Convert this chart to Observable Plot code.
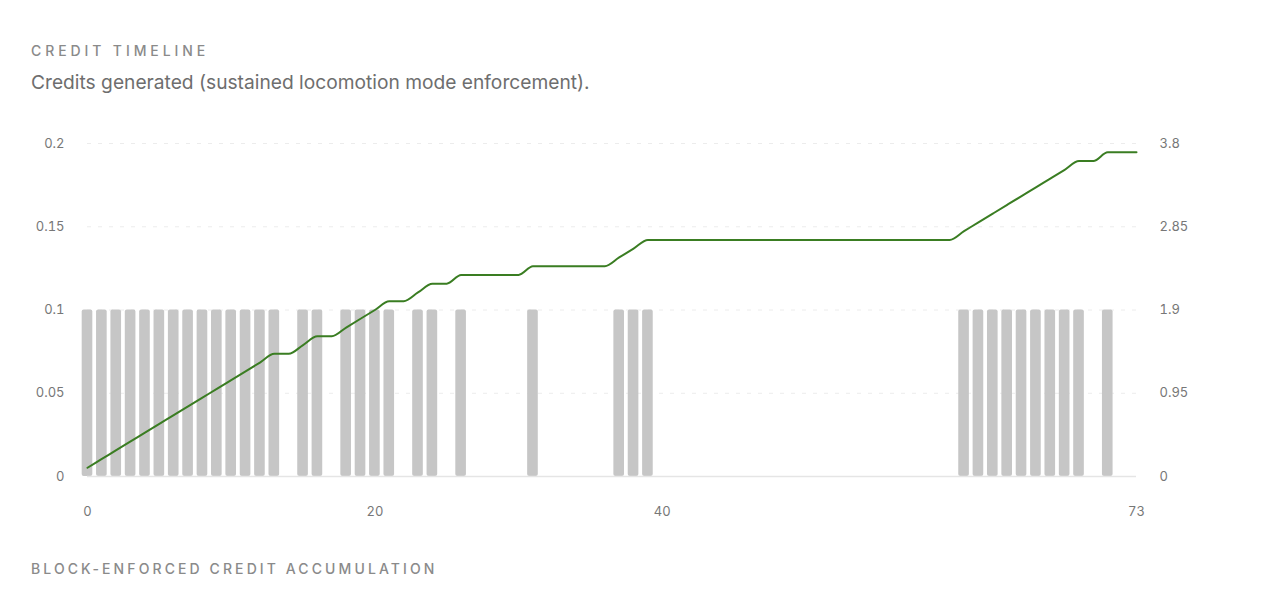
<!DOCTYPE html>
<html>
<head>
<meta charset="utf-8">
<script src="https://cdn.jsdelivr.net/npm/d3@7"></script>
<script src="https://cdn.jsdelivr.net/npm/@observablehq/plot@0.6"></script>
<style>
  html, body { margin: 0; padding: 0; background: #fff; }
  body { width: 1262px; height: 616px; position: relative; font-family: Inter, "Noto Sans", sans-serif; overflow: hidden; }
  .title { position: absolute; left: 31px; top: 42px; font-size: 14px; line-height: 17px; letter-spacing: 3.9px; color: #8a8a8a; font-weight: 500; }
  .subtitle { position: absolute; left: 31px; top: 71px; font-size: 19.2px; line-height: 23px; color: #6e6e6e; }
  .footer { position: absolute; left: 31px; top: 560px; font-size: 14px; line-height: 17px; letter-spacing: 3.1px; color: #8a8a8a; font-weight: 500; }
  #chart { position: absolute; left: 0; top: 100px; }
</style>
</head>
<body>
<div class="title">CREDIT TIMELINE</div>
<div class="subtitle">Credits generated (sustained locomotion mode enforcement).</div>
<div id="chart"></div>
<div class="footer">BLOCK-ENFORCED CREDIT ACCUMULATION</div>
<script>
// ---- data ----
const lastBlock = 73;
const enforcedBlocks = [0,1,2,3,4,5,6,7,8,9,10,11,12,13,15,16,18,19,20,21,23,24,26,31,37,38,39,61,62,63,64,65,66,67,68,69,71];
const creditPerBlock = 0.1;          // bar height (left axis) and credit added per enforced block
const leftTicks = [0, 0.05, 0.1, 0.15, 0.2];
const rightTicks = [0, 0.95, 1.9, 2.85, 3.8];
const xTicks = [0, 20, 40, 73];

// ---- derived tables ----
const leftMax = 0.2, rightMax = 3.8;
const ratio = leftMax / rightMax;
const enforcedSet = new Set(enforcedBlocks);
const bars = enforcedBlocks.map(b => ({block: b, credit: creditPerBlock}));
const blocks = d3.range(0, lastBlock + 1);
const cum = Array.from(d3.cumsum(blocks, b => enforcedSet.has(b) ? creditPerBlock : 0));
const line = blocks.map((b, i) => ({block: b, total: cum[i]}));

const fmt = v => String(+v.toFixed(2));

const chart = Plot.plot({
  width: 1262,
  height: 440,
  marginLeft: 87,
  marginRight: 126,
  marginTop: 43,
  marginBottom: 64,
  style: {fontFamily: "Inter, 'Noto Sans', sans-serif", fontSize: "13px", color: "#777", background: "transparent"},
  x: {domain: [0, lastBlock], label: null},
  y: {domain: [0, leftMax], label: null},
  marks: [
    Plot.gridY(leftTicks.filter(d => d > 0), {stroke: "#ececec", strokeOpacity: 1, strokeDasharray: "4 7"}),
    Plot.rectY(bars, {x1: d => d.block - 0.37, x2: d => d.block + 0.37, y: "credit", fill: "#c6c6c6", rx: 2}),
    Plot.ruleY([0], {stroke: "#e5e5e5", strokeWidth: 1.5}),
    Plot.lineY(line, {x: "block", y: d => d.total * ratio, stroke: "#3a7d22", strokeWidth: 2, curve: "monotone-x"}),
    Plot.axisY(leftTicks, {anchor: "left", tickSize: 0, tickPadding: 23, tickFormat: fmt, label: null}),
    Plot.axisY(rightTicks.map(v => v * ratio), {anchor: "right", tickSize: 0, tickPadding: 23, tickFormat: d => fmt(d / ratio), label: null}),
    Plot.axisX(xTicks, {anchor: "bottom", tickSize: 0, tickPadding: 30, tickFormat: d => String(d), label: null})
  ]
});
document.getElementById("chart").appendChild(chart);
</script>
</body>
</html>
